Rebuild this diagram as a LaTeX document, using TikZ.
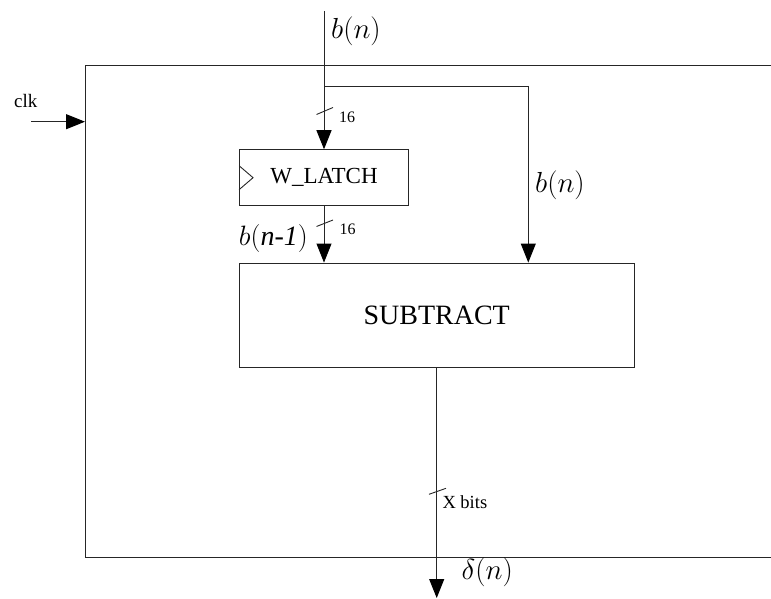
\RequirePackage{fix-cm}
\documentclass[tikz,border=0pt]{standalone}
\usepackage[no-math]{fontspec}
\setmainfont{Liberation Serif}
\usetikzlibrary{arrows.meta}
\begin{document}
\begin{tikzpicture}[x=1pt,y=-1pt,
  wire/.style={draw=black!85, line width=0.9pt},
  arr/.style={wire, -{Triangle[length=19pt,width=15pt,fill=black,color=black]}},
  block/.style={draw=black!85, line width=0.9pt, inner sep=0pt, fill=white},
  lbl/.style={inner sep=0pt},
  small/.style={lbl, font=\fontsize{16}{18}\selectfont},
  big/.style={lbl, font=\fontsize{29}{32}\selectfont}]
\useasboundingbox (0,0) rectangle (771,599);
% outer frame (right side open, leaves the picture)
\draw[wire] (771,65.7) -- (85,65.7) -- (85,557.5) -- (771,557.5);
% blocks
\node[block, minimum width=169pt, minimum height=56pt,
      font=\fontsize{23}{26}\selectfont] (latch) at (324,177.7) {W\_LATCH};
\draw[wire] ([yshift=-12pt]latch.west) -- ++(14,-12) -- ([yshift=12pt]latch.west);
\node[block, minimum width=395pt, minimum height=104pt,
      font=\fontsize{28}{32}\selectfont] (sub) at (436.7,315) {SUBTRACT};
% coordinates
\coordinate (in) at (324,11);
\coordinate (br) at (324,86);
\coordinate (corner) at (528.3,86);
\coordinate (out) at (436.7,598);
\coordinate (clkin) at (31,121.7);
\coordinate (clkto) at (85,121.7);
% connectors
\draw[arr] (in) -- (latch.north);
\draw[wire] (br) -- (corner);
\draw[arr] (corner) -- (corner |- sub.north);
\draw[arr] (latch.south) -- (latch.south |- sub.north);
\draw[arr] (sub.south) -- (out);
\draw[arr] (clkin) -- (clkto);
% bus width slashes
\draw[wire] (316.5,114.5) -- (333,107.5);
\draw[wire] (316.5,226.5) -- (333,220);
\draw[wire] (429,494.3) -- (446,488.3);
% labels
\node[big, anchor=west] (lbn) at (331,31) {$b(n)$};
\node[big, anchor=west] (rbn) at (535,185) {$b(n)$};
\node[big, anchor=east, font=\fontsize{28}{31}\selectfont] (lbn1) at (308,238) {$b($\textit{n-1}$)$};
\node[big, anchor=west] (ldn) at (461.5,572) {$\delta(n)$};
\node[lbl, anchor=base west, font=\fontsize{19}{21}\selectfont] (lclk) at (14,107.7) {clk};
\node[small, anchor=base west] (l16a) at (339,122.5) {16};
\node[small, anchor=base west] (l16b) at (339.3,234.3) {16};
\node[small, anchor=base west, font=\fontsize{18.5}{20}\selectfont] (lx) at (442.3,508.3) {X bits};
\end{tikzpicture}
\end{document}
